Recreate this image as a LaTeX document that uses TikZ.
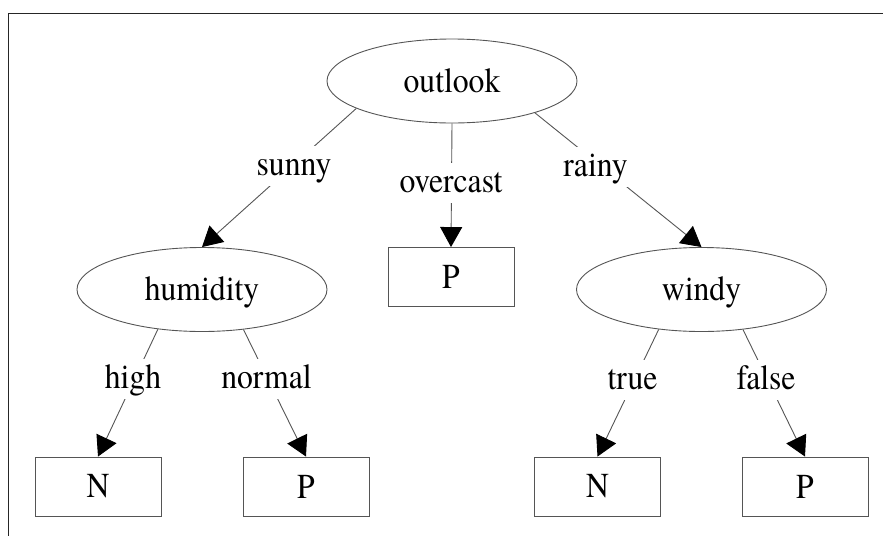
\documentclass[tikz,border=0pt]{standalone}
\usepackage{fontspec}
\usepackage{graphicx}
\newfontfamily\labelserif{texgyretermes-regular.otf}
\usetikzlibrary{shapes.geometric,arrows.meta}
\definecolor{ink}{RGB}{85,85,85}
% slightly condensed serif lettering
\newcommand\hsq[1]{\scalebox{0.905}[1]{#1}}
\tikzset{
  big/.style={font=\labelserif\fontsize{35pt}{40pt}\selectfont},
  attr/.style={big, ellipse, draw=ink, line width=0.9pt, minimum width=250pt,
    minimum height=84pt, inner sep=0pt, text height=22pt, text depth=0pt},
  leaf/.style={big, rectangle, draw=ink, line width=0.9pt, minimum width=126pt,
    minimum height=59pt, inner sep=0pt},
  branch/.style={big, fill=white, anchor=base, inner xsep=3pt, inner ysep=0pt,
    text height=29pt, text depth=11pt},
  edge/.style={draw=ink, line width=0.9pt,
    -{Triangle[length=20pt,width=22pt,color=black]}},
  frame/.style={draw=black!85, line width=1.6pt}
}
\begin{document}
\begin{tikzpicture}[x=1pt, y=-1pt]
\useasboundingbox (0,0) rectangle (883,536);
\draw[frame] (883,13.3) -- (8.5,13.3) -- (8.5,536);

% decision nodes
\node[attr] (outlook)  at (452,81)    {\hsq{outlook}};
\node[attr] (humidity) at (202,289.5) {\hsq{humidity}};
\node[attr] (windy)    at (701.5,289.5) {\hsq{windy}};

% leaves
\node[leaf] (p0) at (451,277)    {\hsq{P}};
\node[leaf] (n1) at (98,486.5)   {\hsq{N}};
\node[leaf] (p1) at (306,486.5)  {\hsq{P}};
\node[leaf] (n2) at (597.5,486.5) {\hsq{N}};
\node[leaf] (p2) at (805,486.5)  {\hsq{P}};

% branches
\draw[edge] (outlook.196)   -- (humidity.north);
\draw[edge] (outlook.south) -- (p0.north);
\draw[edge] (outlook.-21.8) -- (windy.north);
\draw[edge] (humidity.222)  -- (n1.north);
\draw[edge] (humidity.-44)  -- (p1.north);
\draw[edge] (windy.223)     -- (n2.north);
\draw[edge] (windy.-44)     -- (p2.north);

% branch labels
\node[branch] (lsunny)    at (294,175)   {\hsq{sunny}};
\node[branch] (lovercast) at (451,192)   {\hsq{overcast}};
\node[branch] (lrainy)    at (595.5,176) {\hsq{rainy}};
\node[branch] (lhigh)     at (133,388)   {\hsq{high}};
\node[branch] (lnormal)   at (266.5,388) {\hsq{normal}};
\node[branch] (ltrue)     at (632.5,389) {\hsq{true}};
\node[branch] (lfalse)    at (766,389)   {\hsq{false}};
\end{tikzpicture}
\end{document}
